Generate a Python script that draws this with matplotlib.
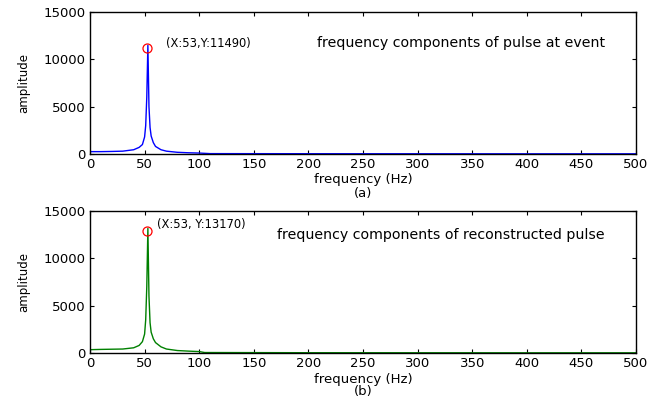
import matplotlib
matplotlib.use("Agg")
import matplotlib.pyplot as plt

plt.rcParams['font.family'] = ['DejaVu Sans']

# spectrum (a): pulse at event
freq_a = [0, 10, 20, 30, 40, 45, 48, 50, 51, 52, 53, 54, 55, 56, 58, 60, 65, 70, 80, 90, 100, 110, 200, 300, 400, 500]
amp_a = [250, 250, 270, 300, 450, 700, 1000, 1800, 3000, 6000, 11490, 5000, 2800, 1900, 1200, 800, 450, 300, 180, 130, 100, 40, 30, 25, 20, 20]

# spectrum (b): reconstructed pulse
freq_b = [0, 10, 20, 30, 40, 45, 48, 50, 51, 52, 53, 54, 55, 56, 58, 60, 65, 70, 80, 90, 100, 105, 200, 300, 400, 500]
amp_b = [350, 380, 400, 420, 550, 800, 1200, 2000, 3500, 7000, 13170, 6000, 3200, 2200, 1500, 1100, 650, 420, 260, 200, 150, 50, 30, 25, 20, 20]

peak_a = (53, 11490)
peak_b = (53, 13170)

x_ticks = list(range(0, 501, 50))
y_ticks = [0, 5000, 10000, 15000]

fig = plt.figure(figsize=(6.65, 4.04), dpi=100)
ax1 = fig.add_axes([90/665, 1 - 154/404, 546/665, 142/404])
ax2 = fig.add_axes([90/665, 1 - 353/404, 546/665, 142/404])

panels = [
    (ax1, freq_a, amp_a, 'b', peak_a, '(X:53,Y:11490)', (70, 11700),
     'frequency components of pulse at event', (208, 11700), '(a)'),
    (ax2, freq_b, amp_b, 'g', peak_b, '(X:53, Y:13170)', (61, 13550),
     'frequency components of reconstructed pulse', (171, 12450), '(b)'),
]

for ax, fx, fy, col, peak, ptxt, ppos, title, tpos, tag in panels:
    ax.plot(fx, fy, color=col, linewidth=1)
    ax.plot(peak[0] - 0.8, peak[1] - 250, 'o', mfc='none', mec='red', ms=6.5, mew=0.9)
    ax.text(ppos[0], ppos[1], ptxt, fontsize=8.3, va='center')
    ax.text(tpos[0], tpos[1], title, fontsize=10.2, va='center')
    ax.set_xlim(0, 500)
    ax.set_ylim(0, 15000)
    ax.set_xticks(x_ticks)
    ax.set_yticks(y_ticks)
    ax.tick_params(direction='in', top=True, right=True, labelsize=9.5, length=3, pad=3)
    ax.set_ylabel('amplitude', fontsize=8.5)
    ax.yaxis.set_label_coords(-60/546, 0.5)
    ax.set_xlabel('frequency (Hz)', fontsize=9.5, va='center')
    ax.xaxis.set_label_coords(0.5, -26/142)
    ax.text(0.5, -39/142, tag, transform=ax.transAxes, fontsize=9.5, ha='center', va='center')
    for s in ax.spines.values():
        s.set_linewidth(1)

fig.savefig('out.png', dpi=100)
